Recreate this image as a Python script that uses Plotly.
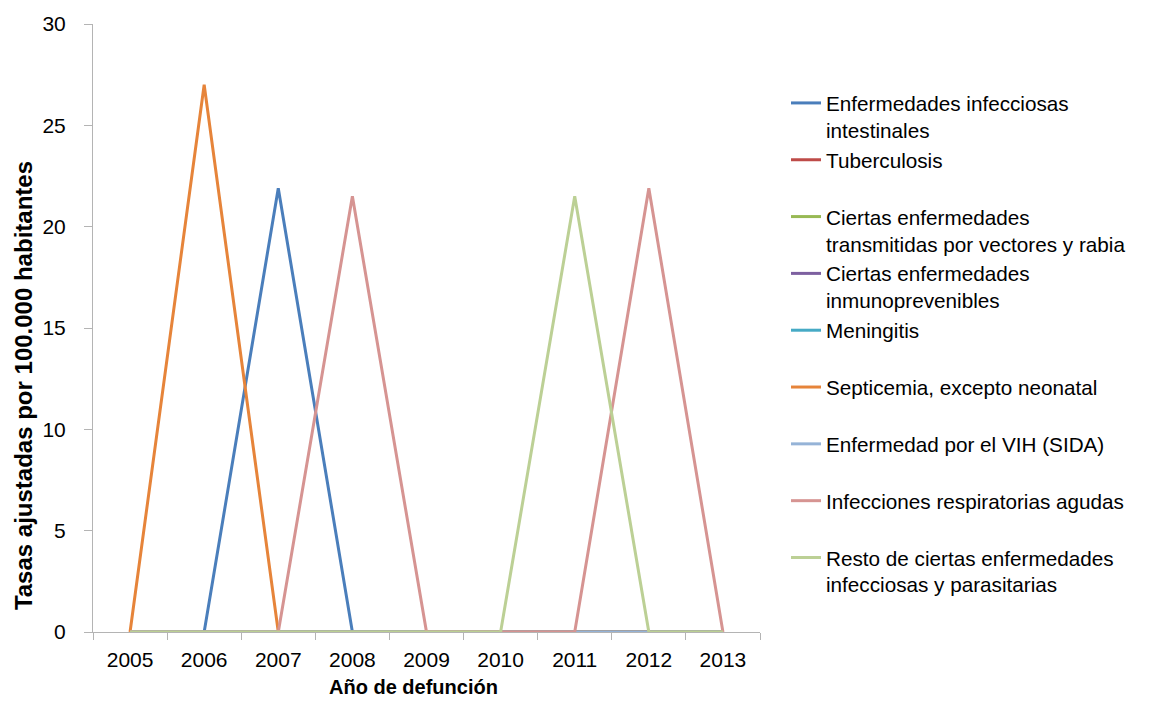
import plotly.graph_objects as go

years = ["2005", "2006", "2007", "2008", "2009", "2010", "2011", "2012", "2013"]

names = [
    "Enfermedades infecciosas<br>intestinales",
    "Tuberculosis<br>\u00a0",
    "Ciertas enfermedades<br>transmitidas por vectores y rabia",
    "Ciertas enfermedades<br>inmunoprevenibles",
    "Meningitis<br>\u00a0",
    "Septicemia, excepto neonatal<br>\u00a0",
    "Enfermedad por el VIH (SIDA)<br>\u00a0",
    "Infecciones respiratorias agudas<br>\u00a0",
    "Resto de ciertas enfermedades<br>infecciosas y parasitarias",
]

intestinales = [0, 0, 21.9, 0, 0, 0, 0, 0, 0]
tuberculosis = [0, 0, 0, 0, 0, 0, 0, 0, 0]
vectores = [0, 0, 0, 0, 0, 0, 0, 0, 0]
inmunoprevenibles = [0, 0, 0, 0, 0, 0, 0, 0, 0]
meningitis = [0, 0, 0, 0, 0, 0, 0, 0, 0]
septicemia = [0, 27.0, 0, 0, 0, 0, 0, 0, 0]
vih = [0, 0, 0, 0, 0, 0, 0, 0, 0]
respiratorias = [0, 0, 0, 21.5, 0, 0, 0, 21.9, 0]
resto = [0, 0, 0, 0, 0, 0, 21.5, 0, 0]

series = [intestinales, tuberculosis, vectores, inmunoprevenibles, meningitis,
          septicemia, vih, respiratorias, resto]
colors = ["#4A7EBB", "#BE4B48", "#98B954", "#7D60A0", "#46AAC5",
          "#E6843A", "#95B3D7", "#D69492", "#BCD095"]

fig = go.Figure()
for name, vals, col in zip(names, series, colors):
    fig.add_trace(go.Scatter(x=years, y=vals, name=name, mode="lines",
                             line=dict(color=col, width=3), cliponaxis=False))

axis_col = "#B4B4B4"
fig.update_layout(
    width=1157, height=701,
    margin=dict(l=93, r=397, t=21, b=69),
    plot_bgcolor="white", paper_bgcolor="white",
    font=dict(family="Liberation Sans, Arial, sans-serif", size=21, color="black"),
    showlegend=True,
    legend=dict(x=1.039, y=0.903, xanchor="left", yanchor="top",
                valign="top", font=dict(size=20.7), bgcolor="rgba(0,0,0,0)",
                tracegroupgap=0),
    xaxis=dict(type="category", range=[-0.5, 8.5], tickson="boundaries",
               ticks="outside", ticklen=7, tickcolor=axis_col, showline=True,
               linecolor=axis_col, linewidth=1, showgrid=False, zeroline=False,
               ticklabelstandoff=9, tickfont=dict(size=21)),
    yaxis=dict(range=[0, 30], dtick=5, ticks="outside", ticklen=8,
               tickcolor=axis_col, showline=True, linecolor=axis_col,
               linewidth=1, showgrid=False, zeroline=False,
               ticklabelstandoff=14, tickfont=dict(size=21)),
    annotations=[
        dict(text="<b>Tasas ajustadas por 100.000 habitantes</b>", xref="paper",
             yref="paper", x=-0.105, y=0.406, xanchor="center", yanchor="middle",
             textangle=-90, showarrow=False, font=dict(size=24)),
        dict(text="<b>Año de defunción</b>", xref="paper", yref="paper",
             x=0.481, y=-0.090, xanchor="center", yanchor="middle",
             showarrow=False, font=dict(size=20)),
    ],
)

fig.write_html("out.html", config={"displayModeBar": False},
               post_script="document.body.style.margin='0';document.body.style.overflow='hidden';")
